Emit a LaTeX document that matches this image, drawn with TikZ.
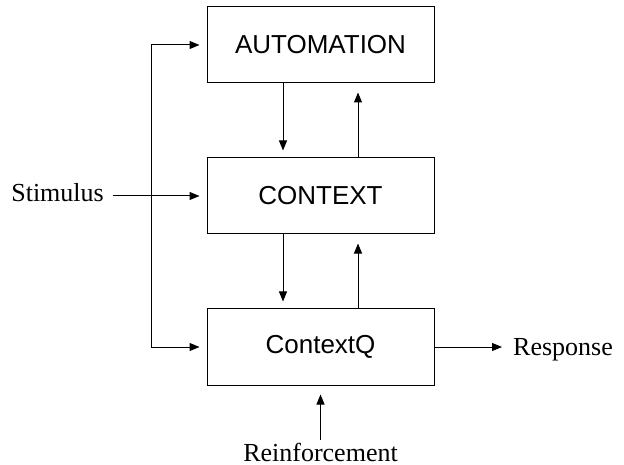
\documentclass[tikz,border=0pt]{standalone}
\usepackage{fontspec}
\setmainfont{Liberation Serif}
\setsansfont{Liberation Sans}
\usetikzlibrary{arrows.meta}
\begin{document}
\begin{tikzpicture}[x=1bp,y=-1bp,
  box/.style={draw,line width=1bp,minimum width=227bp,minimum height=76bp,inner sep=0pt,
    font=\sffamily\fontsize{26bp}{30bp}\selectfont},
  lbl/.style={inner sep=0pt,font=\rmfamily\fontsize{26bp}{30bp}\selectfont},
  arr/.style={line width=1bp,-{Triangle[length=10bp,width=8bp]}}]
\useasboundingbox (0,0) rectangle (624,465);
\node[box] (auto) at (320.5,45) {AUTOMATION};
\node[box] (ctx) at (320.5,196) {CONTEXT};
\node[box] (ctxq) at (320.5,347) {ContextQ};
\node[lbl,anchor=base east] (stim) at (104,202) {Stimulus};
\node[lbl,anchor=base west] (resp) at (513,355) {Response};
\node[lbl,anchor=base] (reinf) at (320.5,461) {Reinforcement};
\coordinate (spine) at (151,196);
% internal arrows
\draw[arr,shorten >=7bp] ([xshift=-37.5bp]auto.south) -- ([xshift=-37.5bp]ctx.north);
\draw[arr,shorten >=9bp] ([xshift=37.5bp]ctx.north) -- ([xshift=37.5bp]auto.south);
\draw[arr,shorten >=7bp] ([xshift=-37.5bp]ctx.south) -- ([xshift=-37.5bp]ctxq.north);
\draw[arr,shorten >=9bp] ([xshift=37.5bp]ctxq.north) -- ([xshift=37.5bp]ctx.south);
% stimulus and spine
\draw[arr,shorten <=9bp,shorten >=7bp] (stim.east |- ctx.west) -- (ctx.west);
\draw[arr,shorten >=7bp] (spine) -- (auto.west -| spine) -- (auto.west);
\draw[arr,shorten >=7bp] (spine) -- (ctxq.west -| spine) -- (ctxq.west);
% response and reinforcement
\draw[arr,shorten >=11bp] (ctxq.east) -- (resp.west |- ctxq.east);
\draw[arr,shorten <=2bp,shorten >=9bp] (reinf.north) -- (ctxq.south);
\end{tikzpicture}
\end{document}
